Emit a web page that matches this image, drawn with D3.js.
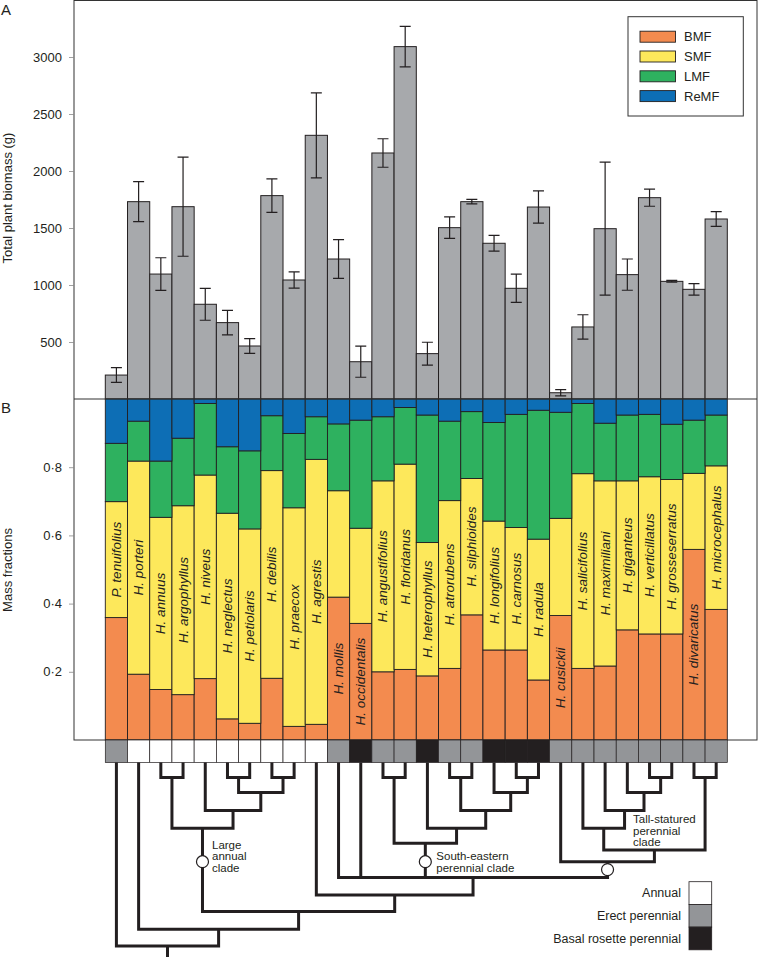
<!DOCTYPE html>
<html><head><meta charset="utf-8">
<script src="https://cdn.jsdelivr.net/npm/d3@7"></script>
<style>
body{margin:0;background:#fff}
svg{display:block}
text{font-family:"Liberation Sans",Arial,Helvetica,sans-serif;fill:#231F20}
</style>
</head><body><svg id="c" width="759" height="957"></svg>
<script>
// ---------------- DATA ----------------
const species = ["P. tenuifolius","H. porteri","H. annuus","H. argophyllus","H. niveus","H. neglectus","H. petiolaris","H. debilis","H. praecox","H. agrestis","H. mollis","H. occidentalis","H. angustifolius","H. floridanus","H. heterophyllus","H. atrorubens","H. silphioides","H. longifolius","H. carnosus","H. radula","H. cusickii","H. salicifolius","H. maximiliani","H. giganteus","H. verticillatus","H. grosseserratus","H. divaricatus","H. microcephalus"];
const biomass   = [210,1731,1096,1687,831,670,465,1784,1044,2313,1228,327,2158,3091,398,1503,1731,1366,971,1684,55,632,1494,1091,1766,1032,962,1579];
const biomassSE = [65,175,143,435,140,107,64,147,72,373,170,136,125,178,100,94,20,69,124,142,28,107,583,137,75,8,50,64];
const biomassTicks = [500,1000,1500,2000,2500,3000];
const fractionTicks = [0.2,0.4,0.6,0.8];

const fractionKeys = ["BMF","SMF","LMF","ReMF"];
const BMF  = [0.359,0.193,0.148,0.133,0.180,0.062,0.049,0.181,0.040,0.046,0.419,0.342,0.200,0.207,0.188,0.210,0.367,0.264,0.264,0.176,0.365,0.210,0.217,0.323,0.311,0.311,0.559,0.383];
const SMF  = [0.340,0.625,0.505,0.554,0.597,0.603,0.570,0.609,0.641,0.777,0.312,0.279,0.560,0.602,0.391,0.492,0.400,0.378,0.359,0.413,0.285,0.571,0.543,0.437,0.461,0.453,0.223,0.421];
const LMF  = [0.171,0.117,0.165,0.198,0.210,0.195,0.229,0.161,0.218,0.125,0.196,0.317,0.188,0.166,0.374,0.233,0.196,0.289,0.332,0.378,0.311,0.206,0.169,0.193,0.183,0.162,0.156,0.149];
const ReMF = [0.130,0.065,0.182,0.115,0.013,0.140,0.152,0.049,0.101,0.052,0.073,0.062,0.052,0.025,0.047,0.065,0.037,0.069,0.045,0.033,0.039,0.013,0.071,0.047,0.045,0.074,0.062,0.047];
// segment in which the species name is written
const labelIn = ["SMF","SMF","SMF","SMF","SMF","SMF","SMF","SMF","SMF","SMF","BMF","BMF","SMF","SMF","SMF","SMF","SMF","SMF","SMF","SMF","BMF","SMF","SMF","SMF","SMF","SMF","BMF","SMF"];

const lifeTypes = ["Annual","Erect perennial","Basal rosette perennial"];
const lifeHistory = ["Erect perennial","Annual","Annual","Annual","Annual","Annual","Annual","Annual","Annual","Annual",
  "Erect perennial","Basal rosette perennial","Erect perennial","Erect perennial","Basal rosette perennial","Erect perennial","Erect perennial",
  "Basal rosette perennial","Basal rosette perennial","Basal rosette perennial",
  "Erect perennial","Erect perennial","Erect perennial","Erect perennial","Erect perennial","Erect perennial","Erect perennial","Erect perennial"];

// phylogeny: leaves are species indices, lv = node rank (distance from the tips)
const tree = {lv:12, c:[0, {lv:11, c:[1, {lv:10, c:[
  {lv:4, id:"lac", c:[{lv:1, c:[2,3]}, {lv:3, c:[4, {lv:2, c:[{lv:1, c:[5,6]}, {lv:1, c:[7,8]}]}]}]},
  {lv:9, c:[9, {lv:8, c:[10, 11,
     {lv:5, id:"se", c:[{lv:1, c:[12,13]}, {lv:4, c:[14, {lv:3, c:[{lv:1, c:[15,16]}, {lv:2, c:[17, {lv:1, c:[18,19]}]}]}]}]},
     {lv:7, id:"tall", c:[20, {lv:6, c:[{lv:4, c:[21, {lv:3, c:[22, {lv:2, c:[23, {lv:1, c:[24,25]}]}]}]}, {lv:1, c:[26,27]}]}]}
  ]}]}
]}]}]};
const clades = [
  {id:"lac",  at:7,   lines:["Large","annual","clade"]},
  {id:"se",   at:7,   lines:["South-eastern","perennial clade"]},
  {id:"tall", at:7.5, lines:["Tall-statured","perennial","clade"]}
];

// ---------------- LAYOUT ----------------
const ink = "#231F20";
const colors = {BMF:"#F38B4F", SMF:"#FDE85B", LMF:"#2EB15F", ReMF:"#0D6EB5"};
const lifeColors = {"Annual":"#FFFFFF","Erect perennial":"#939598","Basal rosette perennial":"#231F20"};

const svg = d3.select("#c");
const x = d3.scaleBand().domain(species).range([105.3, 727.3]).padding(0);
const bw = x.bandwidth();
const yA = d3.scaleLinear().domain([0,3500]).range([399,0]);
const yB = d3.scaleLinear().domain([0,1]).range([740,399]);
const lvY = d3.scaleLinear().domain(d3.range(13))
  .range([762.5,777.5,792.5,810.5,828.3,843.3,850,861.7,877.5,895,911.5,929.3,946]);

// ---- panel A bars
svg.append("g").selectAll("rect").data(species).join("rect")
  .attr("x", d => x(d)).attr("y", (d,i) => yA(biomass[i]))
  .attr("width", bw).attr("height", (d,i) => yA(0) - yA(biomass[i]))
  .attr("fill", "#A7A9AC").attr("stroke", ink).attr("stroke-width", 1);

// error bars
const eb = svg.append("g").attr("stroke", ink).attr("stroke-width", 1.2).attr("fill","none");
species.forEach((s,i) => {
  const cx = x(s) + bw/2, hi = yA(biomass[i] + biomassSE[i]), lo = yA(biomass[i] - biomassSE[i]);
  eb.append("path").attr("d", `M${cx},${hi}V${lo}M${cx-5.5},${hi}H${cx+5.5}M${cx-5.5},${lo}H${cx+5.5}`);
});

// ---- panel B stacked bars
const table = species.map((s,i) => ({species:s, BMF:BMF[i], SMF:SMF[i], LMF:LMF[i], ReMF:ReMF[i]}));
const stacked = d3.stack().keys(fractionKeys)(table);
svg.append("g").selectAll("g").data(stacked).join("g")
  .attr("fill", d => colors[d.key])
  .selectAll("rect").data(d => d).join("rect")
  .attr("x", d => x(d.data.species)).attr("y", d => yB(d[1]))
  .attr("width", bw).attr("height", d => yB(d[0]) - yB(d[1]))
  .attr("stroke", ink).attr("stroke-width", 0.9);

// species labels
const keyIndex = k => fractionKeys.indexOf(k);
svg.append("g").selectAll("text").data(species).join("text")
  .attr("transform", (s,i) => {
    const seg = stacked[keyIndex(labelIn[i])][i];
    return `translate(${x(s)+bw/2},${yB((seg[0]+seg[1])/2)}) rotate(-90)`;
  })
  .attr("text-anchor","middle").attr("dominant-baseline","central")
  .attr("font-style","italic").attr("font-size", 13.5)
  .text(d => d);

// ---- frame and divider
svg.append("rect").attr("x",74).attr("y",0.5).attr("width",683).attr("height",739.5)
  .attr("fill","none").attr("stroke","#333").attr("stroke-width",1);
svg.append("line").attr("x1",74).attr("x2",757).attr("y1",399).attr("y2",399)
  .attr("stroke","#333").attr("stroke-width",1.1);

// ---- axes
const axA = svg.append("g").attr("transform","translate(74,0)")
  .call(d3.axisLeft(yA).tickValues(biomassTicks).tickSize(5).tickPadding(7).tickFormat(d3.format("d")));
const fmt = d => d3.format(".1f")(d).replace(".", "\u00B7");
const axB = svg.append("g").attr("transform","translate(74,0)")
  .call(d3.axisLeft(yB).tickValues(fractionTicks).tickSize(5).tickPadding(7).tickFormat(fmt));
[axA, axB].forEach(g => {
  g.select(".domain").remove();
  g.selectAll("line").attr("stroke","#888").attr("stroke-width",0.8);
  g.selectAll("text").attr("font-size",13).attr("fill",ink).style("font-family",'"Liberation Sans",Arial,sans-serif');
});

svg.append("text").attr("transform","translate(12,198) rotate(-90)").attr("text-anchor","middle")
  .attr("font-size",13).text("Total plant biomass (g)");
svg.append("text").attr("transform","translate(12,570) rotate(-90)").attr("text-anchor","middle")
  .attr("font-size",13).text("Mass fractions");
svg.append("text").attr("x",1).attr("y",15).attr("font-size",15).text("A");
svg.append("text").attr("x",1).attr("y",413).attr("font-size",15).text("B");

// ---- legend (fractions)
const lg = svg.append("g");
lg.append("rect").attr("x",628).attr("y",16.7).attr("width",115.3).attr("height",99.3)
  .attr("fill","#fff").attr("stroke","#333").attr("stroke-width",1);
fractionKeys.forEach((k,i) => {
  const cy = 36.7 + i*19.8;
  lg.append("rect").attr("x",640).attr("y",cy-5.5).attr("width",35.5).attr("height",11)
    .attr("fill",colors[k]).attr("stroke",ink).attr("stroke-width",0.9);
  lg.append("text").attr("x",684).attr("y",cy).attr("dominant-baseline","central")
    .attr("font-size",13).text(k);
});

// ---- life-history row
svg.append("g").selectAll("rect").data(species).join("rect")
  .attr("x", d => x(d)).attr("y", 740).attr("width", bw).attr("height", 22.5)
  .attr("fill", (d,i) => lifeColors[lifeHistory[i]]).attr("stroke", ink).attr("stroke-width", 0.7);

// ---- tree
const tg = svg.append("g").attr("fill","none").attr("stroke",ink).attr("stroke-width",3)
  .attr("stroke-linejoin","miter").attr("stroke-linecap","butt");
const nodePos = {};
function layout(node) {
  if (typeof node === "number") return {x: x(species[node]) + bw/2, y: lvY(0)};
  const kids = node.c.map(layout);
  const a = kids[0], b = kids[kids.length-1];
  const nx = (a.x + b.x) / 2, ny = lvY(node.lv);
  let d = `M${a.x},${a.y}V${ny}H${b.x}V${b.y}`;
  kids.slice(1,-1).forEach(k => { d += `M${k.x},${k.y}V${ny}`; });
  tg.append("path").attr("d", d);
  const p = {x: nx, y: ny};
  if (node.id) nodePos[node.id] = p;
  return p;
}
const root = layout(tree);
tg.append("path").attr("d", `M${root.x},${root.y}V957`);

// clade markers
const clabel = {lac:{dx:9.5, dy:-17}, se:{dx:11, dy:-5.5}, tall:{dx:25.5, dy:-50.5}};
clades.forEach(c => {
  const p = nodePos[c.id], cy = lvY(c.at);
  svg.append("circle").attr("cx",p.x).attr("cy",cy).attr("r",6)
    .attr("fill","#fff").attr("stroke",ink).attr("stroke-width",1.2);
  c.lines.forEach((l,j) => svg.append("text").attr("font-size",11.5)
    .attr("x", p.x + clabel[c.id].dx)
    .attr("y", cy + clabel[c.id].dy + j*11.6).attr("dominant-baseline","central").text(l));
});

// ---- life-history legend
const ll = svg.append("g");
lifeTypes.forEach((t,i) => {
  const y0 = 881.7 + i*22.7;
  ll.append("rect").attr("x",689).attr("y",y0).attr("width",22.7).attr("height",22.7)
    .attr("fill",lifeColors[t]).attr("stroke",ink).attr("stroke-width",0.8);
  ll.append("text").attr("x",681).attr("y",y0+11.5).attr("text-anchor","end")
    .attr("dominant-baseline","central").attr("font-size",12.5).text(t);
});
</script>
</body></html>
